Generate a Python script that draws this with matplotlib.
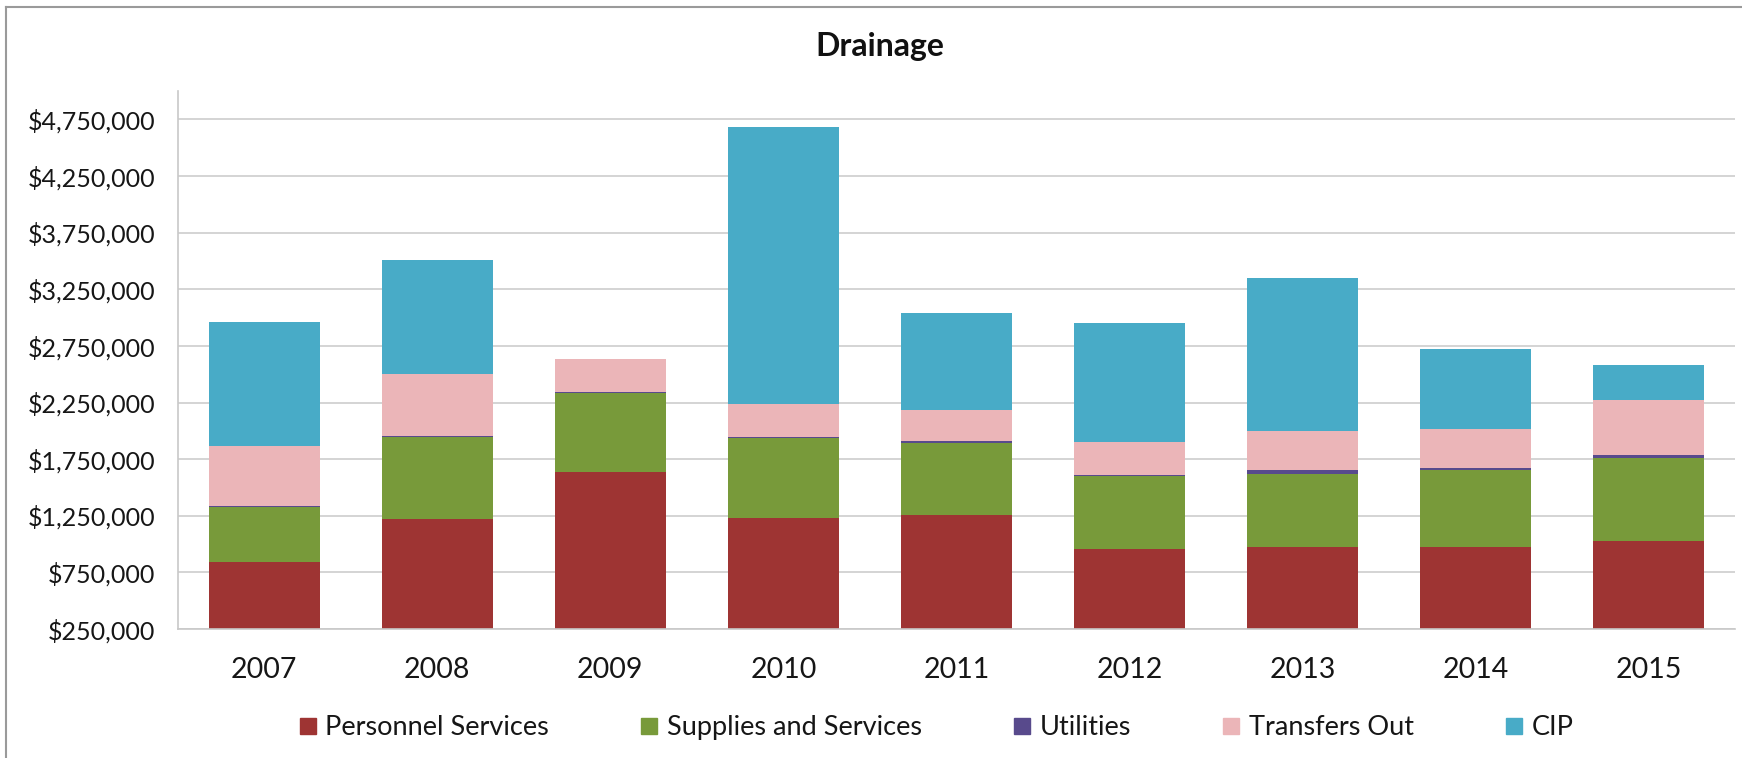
import matplotlib
matplotlib.use("Agg")
import matplotlib.pyplot as plt
import numpy as np
from matplotlib.lines import Line2D
from matplotlib.ticker import FuncFormatter

plt.rcParams["font.family"] = ["Lato", "DejaVu Sans"]

years = ["2007", "2008", "2009", "2010", "2011", "2012", "2013", "2014", "2015"]
personnel = [840000, 1225000, 1640000, 1227000, 1258000, 958000, 978000, 978000, 1025000]
supplies = [490000, 725000, 690000, 710000, 635000, 640000, 640000, 675000, 735000]
utilities = [8000, 6000, 10000, 10000, 15000, 10000, 35000, 18000, 28000]
transfers = [530000, 545000, 290000, 290000, 280000, 290000, 350000, 347000, 481000]
cip = [1090000, 1005000, 0, 2448000, 851000, 1057000, 1350000, 708000, 309000]

series = [
    ("Personnel Services", personnel, "#9E3433"),
    ("Supplies and Services", supplies, "#789A3A"),
    ("Utilities", utilities, "#584A8C"),
    ("Transfers Out", transfers, "#EBB5B8"),
    ("CIP", cip, "#48ABC7"),
]

fig = plt.figure(figsize=(17.42, 7.58), dpi=100)
ax = fig.add_axes([0.102, 0.170, 0.894, 0.710])

x = np.arange(len(years))
bottom = np.zeros(len(years))
for name, vals, color in series:
    vals = np.array(vals, dtype=float)
    ax.bar(x, vals, width=0.64, bottom=bottom, color=color, label=name, zorder=2)
    bottom += vals

ax.set_xlim(-0.5, len(years) - 0.5)
ax.set_ylim(250000, 5000000)
ax.set_yticks(np.arange(250000, 4750001, 500000))
ax.yaxis.set_major_formatter(FuncFormatter(lambda v, _: f"${v:,.0f}"))
ax.set_xticks(x, years)

ax.grid(axis="y", color="#D4D4D4", linewidth=1.4, zorder=0)
ax.set_axisbelow(True)
for side in ["top", "right"]:
    ax.spines[side].set_visible(False)
for side in ["left", "bottom"]:
    ax.spines[side].set_color("#C8C8C8")
    ax.spines[side].set_linewidth(1.2)
ax.tick_params(axis="y", length=0, pad=16, labelsize=18, labelcolor="#161616")
ax.tick_params(axis="x", length=0, pad=20, labelsize=20.5, labelcolor="#161616")

fig.text(0.505, 0.939, "Drainage", ha="center", va="center",
         fontsize=23, fontweight="bold", color="#111111")

handles = [Line2D([], [], marker="s", linestyle="none", markersize=12,
                  markerfacecolor=c, markeredgecolor=c) for _, _, c in series]
labels = [n for n, _, _ in series]
fig.legend(handles, labels, loc="center", bbox_to_anchor=(0.537, 0.040),
           ncol=5, frameon=False, fontsize=19.5, handlelength=0.8,
           handletextpad=0.25, columnspacing=3.3, labelcolor="#161616")

# outer chart frame
fig.add_artist(Line2D([0.0035, 0.0035], [0.0, 0.991], transform=fig.transFigure,
                      color="#9A9A9A", linewidth=1.5))
fig.add_artist(Line2D([0.0035, 1.0], [0.991, 0.991], transform=fig.transFigure,
                      color="#9A9A9A", linewidth=1.5))

fig.savefig("out.png", dpi=100)
